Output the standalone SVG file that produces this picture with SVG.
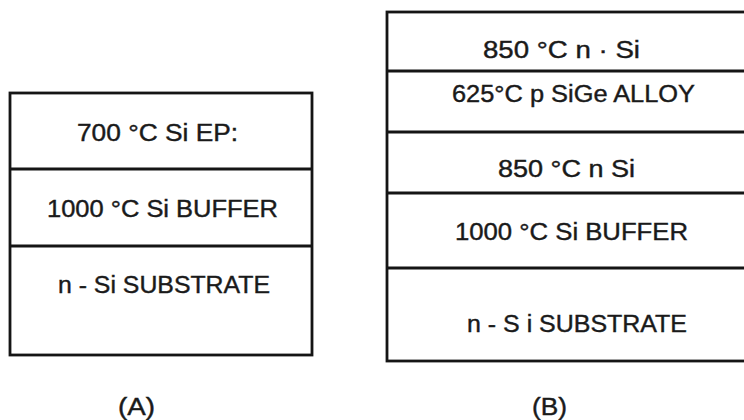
<svg xmlns="http://www.w3.org/2000/svg" width="744" height="420" viewBox="0 0 744 420">
<style>
.box{fill:none;stroke:#151515;stroke-width:2.8}
.div{stroke:#151515;stroke-width:2.8}
text{font-family:"Liberation Sans",Arial,sans-serif;font-size:23px;fill:#1a1a1a;stroke:#1a1a1a;stroke-width:0.4}
</style>
<rect width="744" height="420" fill="#ffffff"/>
<g id="stackA">
<rect class="box" x="10" y="93" width="302" height="262"/>
<line class="div" x1="10" y1="169" x2="312" y2="169"/>
<line class="div" x1="10" y1="246" x2="312" y2="246"/>
<text x="77" y="141" textLength="161" lengthAdjust="spacingAndGlyphs">700 °C Si EP:</text>
<text x="47" y="217" textLength="231" lengthAdjust="spacingAndGlyphs">1000 °C Si BUFFER</text>
<text x="58" y="293" textLength="212" lengthAdjust="spacingAndGlyphs">n - Si SUBSTRATE</text>
</g>
<g id="stackB">
<rect class="box" x="387" y="12" width="370" height="349"/>
<line class="div" x1="387" y1="71" x2="744" y2="71"/>
<line class="div" x1="387" y1="132" x2="744" y2="132"/>
<line class="div" x1="387" y1="193" x2="744" y2="193"/>
<line class="div" x1="387" y1="268" x2="744" y2="268"/>
<text x="483" y="58" textLength="157" lengthAdjust="spacingAndGlyphs">850 °C n · Si</text>
<text x="452" y="102" textLength="243" lengthAdjust="spacingAndGlyphs">625°C p  SiGe ALLOY</text>
<text x="498" y="177" textLength="137" lengthAdjust="spacingAndGlyphs">850 °C n Si</text>
<text x="455" y="240" textLength="233" lengthAdjust="spacingAndGlyphs">1000 °C Si BUFFER</text>
<text x="467" y="332" textLength="220" lengthAdjust="spacingAndGlyphs">n - S i SUBSTRATE</text>
</g>
<g id="labels">
<text x="118" y="415" textLength="37" lengthAdjust="spacingAndGlyphs">(A)</text>
<text x="532" y="415" textLength="35" lengthAdjust="spacingAndGlyphs">(B)</text>
</g>
</svg>
